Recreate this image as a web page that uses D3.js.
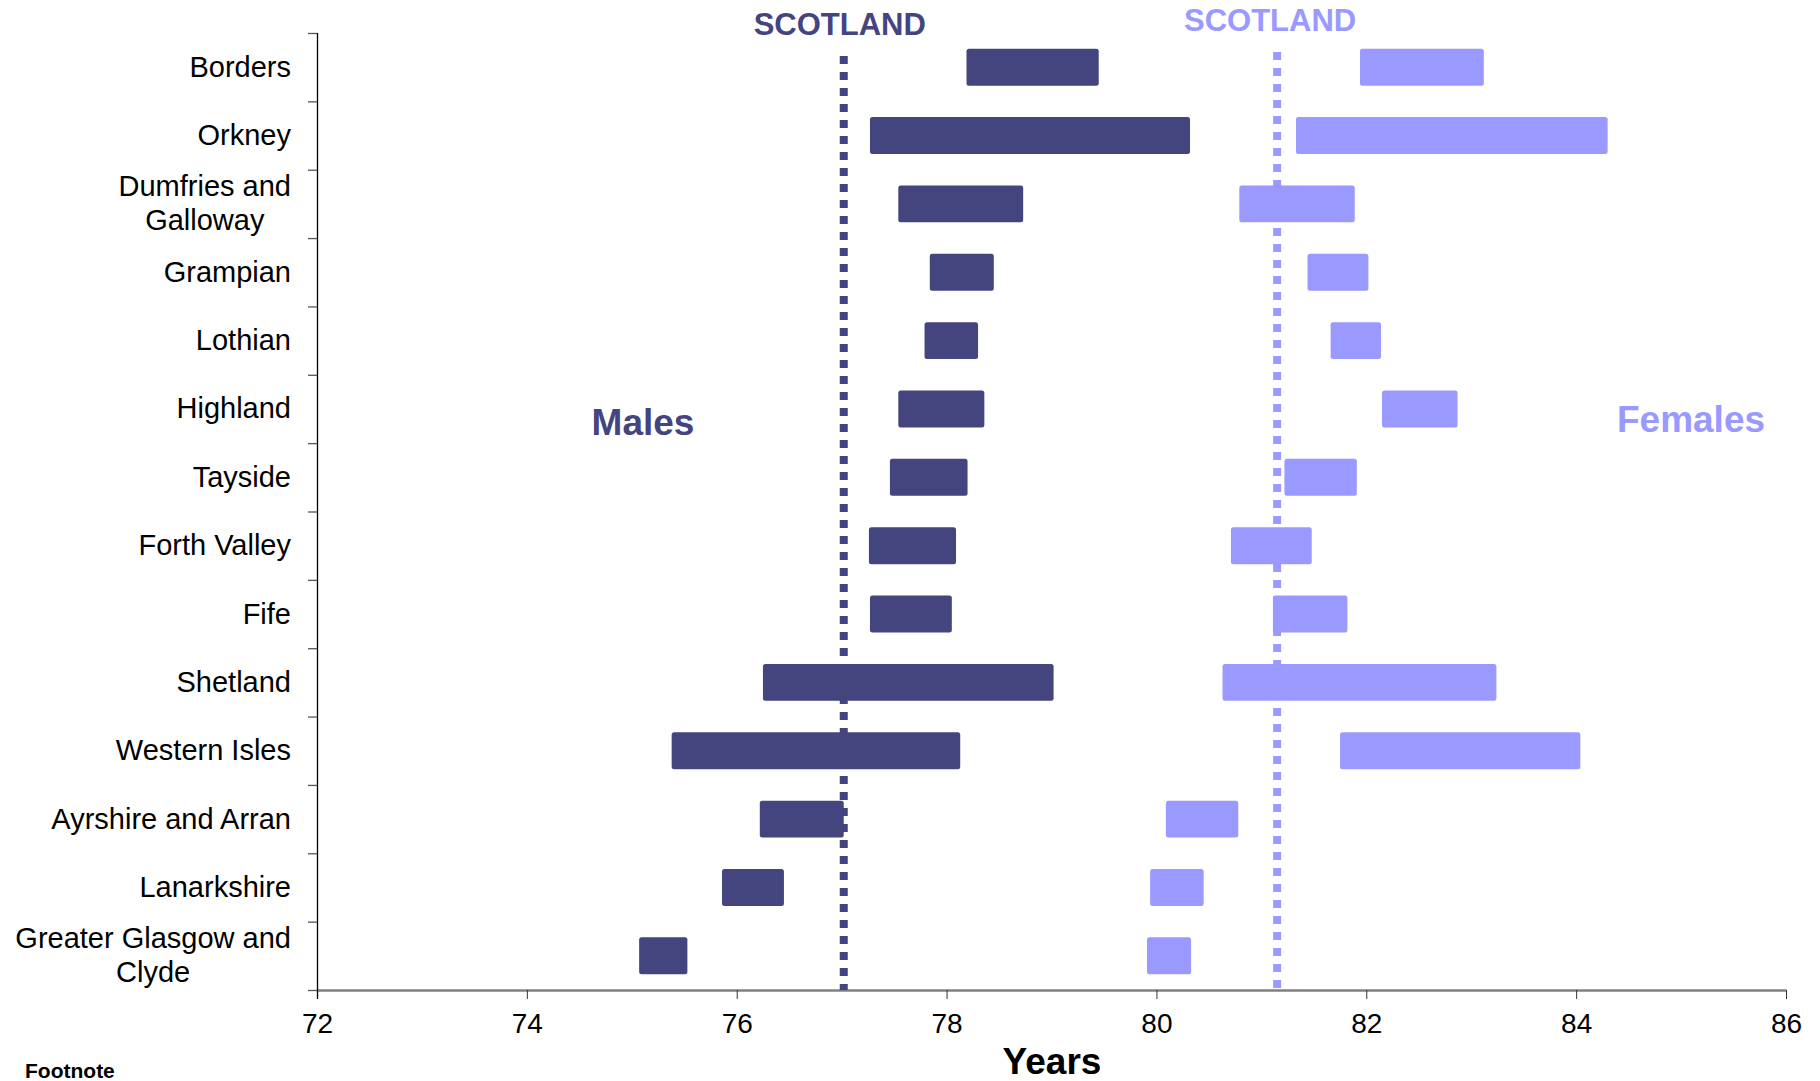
<!DOCTYPE html>
<html>
<head>
<meta charset="utf-8">
<script src="https://cdn.jsdelivr.net/npm/d3@7"></script>
<style>
  body { margin: 0; background: #fff; }
  text { font-family: "Liberation Sans", Arial, sans-serif; }
</style>
</head>
<body>
<div id="chart-area"></div>
<script>
// health boards, top to bottom
const regions = [
    ['Borders'],
    ['Orkney'],
    ['Dumfries and', 'Galloway'],
    ['Grampian'],
    ['Lothian'],
    ['Highland'],
    ['Tayside'],
    ['Forth Valley'],
    ['Fife'],
    ['Shetland'],
    ['Western Isles'],
    ['Ayrshire and Arran'],
    ['Lanarkshire'],
    ['Greater Glasgow and', 'Clyde']
];
const maleLow   = [78.19, 77.27, 77.54, 77.84, 77.79, 77.54, 77.46, 77.26, 77.27, 76.25, 75.38, 76.22, 75.86, 75.07];
const maleHigh  = [79.45, 80.32, 78.73, 78.45, 78.30, 78.36, 78.20, 78.09, 78.05, 79.02, 78.13, 77.02, 76.45, 75.53];
const femaleLow  = [81.94, 81.33, 80.79, 81.44, 81.66, 82.15, 81.22, 80.71, 81.11, 80.63, 81.75, 80.09, 79.94, 79.91];
const femaleHigh = [83.12, 84.30, 81.89, 82.02, 82.14, 82.87, 81.91, 81.48, 81.82, 83.24, 84.04, 80.78, 80.45, 80.33];
const scotlandMale = 77.02;
const scotlandFemale = 81.15;
const xTicks = [72, 74, 76, 78, 80, 82, 84, 86];

const maleColor = '#44447f';
const femaleColor = '#9999ff';

const chartWidth = 1820, chartHeight = 1081;
const plotLeft = 317, plotRight = 1786, plotTop = 33, plotBottom = 990;

const svg = d3.select('#chart-area').append('svg')
    .attr('width', chartWidth)
    .attr('height', chartHeight);

const x = d3.scaleLinear()
    .domain([72, 86])
    .range([plotLeft, plotRight]);

const idx = d3.range(regions.length);
const y = d3.scaleBand()
    .domain(idx)
    .range([plotTop, plotBottom])
    .paddingInner(0.46)
    .paddingOuter(0.23);

// boundary scale for the category ticks
const yEdge = d3.scaleLinear()
    .domain([0, regions.length])
    .range([plotTop, plotBottom]);

// x axis
const xAxis = svg.append('g')
    .attr('transform', `translate(0, ${plotBottom})`)
    .call(d3.axisBottom(x).tickValues(xTicks).tickSize(9).tickSizeOuter(0).tickPadding(14));
xAxis.select('.domain').attr('stroke', '#808080').attr('stroke-width', 2.5);
xAxis.selectAll('.tick line').attr('stroke', '#333');
xAxis.selectAll('.tick text').attr('font-size', 28).attr('fill', '#000')
    .attr('font-family', '"Liberation Sans", Arial, sans-serif');

// y axis (ticks at category boundaries)
const yAxis = svg.append('g')
    .attr('transform', `translate(${plotLeft}, 0)`)
    .call(d3.axisLeft(yEdge).tickValues(d3.range(regions.length + 1)).tickFormat('').tickSize(9).tickSizeOuter(0));
yAxis.select('.domain').attr('stroke', '#000').attr('stroke-width', 1.3)
    .attr('d', `M0.5,${plotTop}V${plotBottom + 9}`);
yAxis.selectAll('.tick line').attr('stroke', '#555').attr('stroke-width', 1.3);

// category labels
const labelRight = 291;
const labels = svg.append('g').selectAll('text')
    .data(idx)
    .join('text')
    .attr('font-size', 29)
    .attr('fill', '#000')
    .attr('text-anchor', 'middle');

labels.each(function (i) {
    const t = d3.select(this);
    const lines = regions[i];
    const cy = y(i) + y.bandwidth() / 2;
    const first = cy + 9.5 - (lines.length - 1) * 17;
    lines.forEach((line, k) => {
        t.append('tspan').attr('y', first + k * 34).text(line);
    });
    const w = d3.max(t.selectAll('tspan').nodes(), n => n.getComputedTextLength());
    t.selectAll('tspan').attr('x', labelRight - w / 2);
});

// Scotland reference lines
svg.append('line')
    .attr('x1', x(scotlandMale)).attr('x2', x(scotlandMale))
    .attr('y1', 56).attr('y2', plotBottom)
    .attr('stroke', maleColor)
    .attr('stroke-width', 8)
    .attr('stroke-dasharray', '8,8');

svg.append('line')
    .attr('x1', x(scotlandFemale)).attr('x2', x(scotlandFemale))
    .attr('y1', 52).attr('y2', plotBottom)
    .attr('stroke', femaleColor)
    .attr('stroke-width', 8)
    .attr('stroke-dasharray', '8,8');

// bars
svg.append('g').selectAll('rect')
    .data(idx)
    .join('rect')
    .attr('x', i => x(maleLow[i]))
    .attr('width', i => x(maleHigh[i]) - x(maleLow[i]))
    .attr('y', i => y(i))
    .attr('height', y.bandwidth())
    .attr('rx', 2.5)
    .attr('fill', maleColor);

svg.append('g').selectAll('rect')
    .data(idx)
    .join('rect')
    .attr('x', i => x(femaleLow[i]))
    .attr('width', i => x(femaleHigh[i]) - x(femaleLow[i]))
    .attr('y', i => y(i))
    .attr('height', y.bandwidth())
    .attr('rx', 2.5)
    .attr('fill', femaleColor);

// annotations
svg.append('text')
    .attr('x', x(scotlandMale) - 4).attr('y', 35)
    .attr('text-anchor', 'middle')
    .attr('font-size', 31).attr('font-weight', 'bold')
    .attr('fill', maleColor)
    .text('SCOTLAND');

svg.append('text')
    .attr('x', x(scotlandFemale) - 7).attr('y', 31)
    .attr('text-anchor', 'middle')
    .attr('font-size', 31).attr('font-weight', 'bold')
    .attr('fill', femaleColor)
    .text('SCOTLAND');

svg.append('text')
    .attr('x', 643).attr('y', 435)
    .attr('text-anchor', 'middle')
    .attr('font-size', 37).attr('font-weight', 'bold')
    .attr('fill', maleColor)
    .text('Males');

svg.append('text')
    .attr('x', 1691).attr('y', 432)
    .attr('text-anchor', 'middle')
    .attr('font-size', 37).attr('font-weight', 'bold')
    .attr('fill', femaleColor)
    .text('Females');

svg.append('text')
    .attr('x', 1052).attr('y', 1074)
    .attr('text-anchor', 'middle')
    .attr('font-size', 37).attr('font-weight', 'bold')
    .attr('fill', '#000')
    .text('Years');

svg.append('text')
    .attr('x', 25).attr('y', 1078)
    .attr('font-size', 21).attr('font-weight', 'bold')
    .attr('fill', '#000')
    .text('Footnote');
</script>
</body>
</html>
